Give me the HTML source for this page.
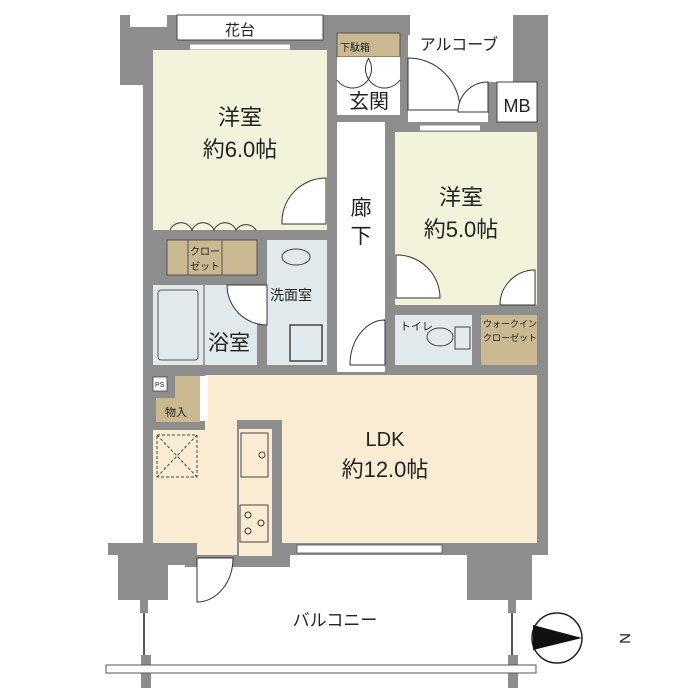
<!DOCTYPE html>
<html><head><meta charset="utf-8"><style>
html,body{margin:0;padding:0;background:#fff}
svg{display:block}
text{font-family:"Liberation Sans","Noto Sans CJK JP",sans-serif;fill:#222}
</style></head><body>
<svg width="700" height="700" viewBox="0 0 700 700">
<g fill="#8d8d8d">
<rect x="120" y="15" width="58" height="70"/>
<rect x="143" y="15" width="192" height="35"/>
<rect x="330" y="15" width="80" height="20"/>
<rect x="327" y="15" width="10" height="360"/>
<rect x="385" y="115" width="10" height="260"/>
<rect x="333" y="115" width="70" height="8"/>
<rect x="400" y="33" width="8" height="90"/>
<rect x="395" y="122" width="153" height="10"/>
<rect x="488" y="82" width="10" height="50"/>
<rect x="513" y="15" width="35" height="68"/>
<rect x="537" y="75" width="11" height="480"/>
<rect x="143" y="50" width="10" height="500"/>
<rect x="143" y="230" width="190" height="10"/>
<rect x="143" y="240" width="24" height="45"/>
<rect x="143" y="275" width="124" height="10"/>
<rect x="257" y="240" width="10" height="130"/>
<rect x="395" y="305" width="150" height="10"/>
<rect x="472" y="315" width="9" height="55"/>
<rect x="143" y="365" width="405" height="10"/>
<rect x="143" y="375" width="62" height="55" />
<rect x="108" y="543" width="440" height="12"/>
<rect x="118" y="555" width="50" height="45"/>
<rect x="150" y="555" width="50" height="10"/>
<rect x="185" y="555" width="105" height="12"/>
<rect x="467" y="555" width="65" height="45"/>
<rect x="140" y="598" width="8" height="15"/>
<rect x="508" y="598" width="8" height="15"/>
<rect x="141" y="655" width="10" height="33"/>
<rect x="508" y="655" width="10" height="33"/>
</g>
<rect x="130" y="15" width="37" height="12" fill="#fff"/>
<rect x="153" y="50" width="174" height="180" fill="#f3f3dc"/>
<rect x="395" y="132" width="142" height="173" fill="#f3f3dc"/>
<rect x="167" y="240" width="90" height="35" fill="#c9b890" stroke="#555" stroke-width="1"/>
<line x1="188" y1="240" x2="188" y2="275" stroke="#555"/><line x1="222" y1="240" x2="222" y2="275" stroke="#555"/>
<rect x="267" y="240" width="60" height="125" fill="#e1e9ec"/>
<ellipse cx="296" cy="257" rx="14" ry="8" fill="none" stroke="#444"/>
<rect x="290" y="325" width="32" height="36" fill="none" stroke="#444" stroke-width="1.5"/>
<rect x="153" y="285" width="104" height="80" fill="#e1e9ec"/>
<rect x="158" y="290" width="40" height="70" fill="#e1e9ec" stroke="#555" rx="3"/>
<line x1="204" y1="285" x2="204" y2="365" stroke="#555"/>
<rect x="395" y="315" width="77" height="50" fill="#e1e9ec"/>
<ellipse cx="440" cy="337" rx="13" ry="9" fill="none" stroke="#444"/>
<rect x="455" y="327" width="15" height="22" fill="none" stroke="#444"/>
<rect x="481" y="315" width="56" height="50" fill="#c9b890"/>
<rect x="337" y="122" width="48" height="250" fill="#fff"/>
<rect x="337" y="33" width="63" height="24" fill="#c9b890" stroke="#555"/>
<rect x="337" y="57" width="63" height="58" fill="#fff"/>
<rect x="177" y="15" width="146" height="25" fill="#fff" stroke="#444"/>
<rect x="497" y="82" width="40" height="40" fill="#fff" stroke="#444"/>
<rect x="205" y="375" width="332" height="168" fill="#faecd2"/>
<rect x="153" y="430" width="84" height="113" fill="#faecd2"/>
<rect x="197" y="540" width="40" height="15" fill="#faecd2"/>
<rect x="153" y="375" width="52" height="55" fill="#8d8d8d"/>
<rect x="153" y="377" width="14" height="14" fill="#fff" stroke="#444" stroke-width=".8"/>
<rect x="175" y="376" width="25" height="22" fill="#c9b890"/>
<rect x="156" y="398" width="44" height="24" fill="#c9b890"/>
<rect x="200" y="376" width="8" height="45" fill="#fff"/>
<rect x="157" y="435" width="40" height="42" fill="none" stroke="#444" stroke-dasharray="3,2"/>
<path d="M157 435L197 477M197 435L157 477" stroke="#444" stroke-dasharray="3,2"/>
<rect x="237" y="420" width="45" height="137" fill="#8d8d8d"/>
<rect x="239" y="429" width="33" height="127" fill="#faecd2"/>
<rect x="241" y="433" width="27" height="44" fill="#faecd2" stroke="#444"/>
<circle cx="262" cy="455" r="3" fill="none" stroke="#444"/>
<rect x="240" y="505" width="28" height="37" fill="#faecd2" stroke="#444"/>
<g fill="none" stroke="#333"><circle cx="248" cy="515" r="3"/><circle cx="261" cy="523" r="3"/><circle cx="248" cy="531" r="3"/></g>
<rect x="297" y="545" width="145" height="8" fill="#fff" stroke="#555" stroke-width=".8"/>
<g fill="#fff" stroke="#333" stroke-width="1">
<path d="M326 178 L326 224 L282 224 A44 44 0 0 1 326 178Z"/>
<path d="M396 255 L396 298 L440 298 A43 43 0 0 0 396 255Z"/>
<path d="M535 270 L535 305 L500 305 A35 35 0 0 1 535 270Z"/>
<path d="M385 320 L385 365 L350 365 A35 45 0 0 1 385 320Z"/>
<path d="M408 58 L408 110 L460 110 A52 52 0 0 0 408 58Z"/>
<path d="M488 82 L488 112 L458 112 A30 30 0 0 1 488 82Z"/>
<path d="M267 285 L267 325 A40 40 0 0 1 227 285Z"/>
<path d="M197 558 L197 602 A36 44 0 0 0 233 558Z"/>
</g>
<g fill="none" stroke="#333"><path d="M170 230a12 12 0 0 1 22 0a12 12 0 0 1 22 0a12 12 0 0 1 22 0a12 12 0 0 1 20 0"/><path d="M337 80a16 16 0 0 0 31-22M400 80a16 16 0 0 1-31-22"/></g>
<line x1="190" y1="47" x2="290" y2="47" stroke="#fff" stroke-width="5"/>
<line x1="420" y1="128" x2="480" y2="128" stroke="#fff" stroke-width="5"/>
<rect x="106" y="665" width="430" height="8" fill="#fff" stroke="#555"/>
<line x1="144" y1="613" x2="144" y2="655" stroke="#555" stroke-width="2"/>
<line x1="512" y1="613" x2="512" y2="655" stroke="#555" stroke-width="2"/>
<circle cx="557" cy="638" r="25" fill="#fff" stroke="#222" stroke-width="1.5"/>
<path d="M533 625 L582 638 L533 650Z" fill="#111"/>
<text x="615" y="638" font-size="15" transform="rotate(90 620 638)">N</text>
<text x="240" y="35" font-size="15" text-anchor="middle">花台</text>
<text x="459" y="50" font-size="16" text-anchor="middle">アルコーブ</text>
<text x="340" y="51" font-size="10">下駄箱</text>
<text x="369" y="108" font-size="20" text-anchor="middle">玄関</text>
<text x="517" y="112" font-size="18" text-anchor="middle">MB</text>
<text x="240" y="125" font-size="22" text-anchor="middle">洋室</text>
<text x="240" y="157" font-size="22" text-anchor="middle">約6.0帖</text>
<text x="461" y="205" font-size="22" text-anchor="middle">洋室</text>
<text x="461" y="237" font-size="22" text-anchor="middle">約5.0帖</text>
<text x="361" y="215" font-size="21" text-anchor="middle">廊</text>
<text x="361" y="243" font-size="21" text-anchor="middle">下</text>
<text x="190" y="255" font-size="10">クロー</text>
<text x="190" y="270" font-size="10">ゼット</text>
<text x="270" y="300" font-size="14">洗面室</text>
<text x="208" y="350" font-size="21">浴室</text>
<text x="400" y="330" font-size="11">トイレ</text>
<text x="483" y="327" font-size="9">ウォークイン</text>
<text x="483" y="341" font-size="9">クローゼット</text>
<text x="165" y="416" font-size="11">物入</text>
<text x="155" y="387" font-size="7">PS</text>
<text x="385" y="446" font-size="20" text-anchor="middle">LDK</text>
<text x="385" y="477" font-size="22" text-anchor="middle">約12.0帖</text>
<text x="335" y="626" font-size="17" text-anchor="middle">バルコニー</text>
</svg>
</body></html>
